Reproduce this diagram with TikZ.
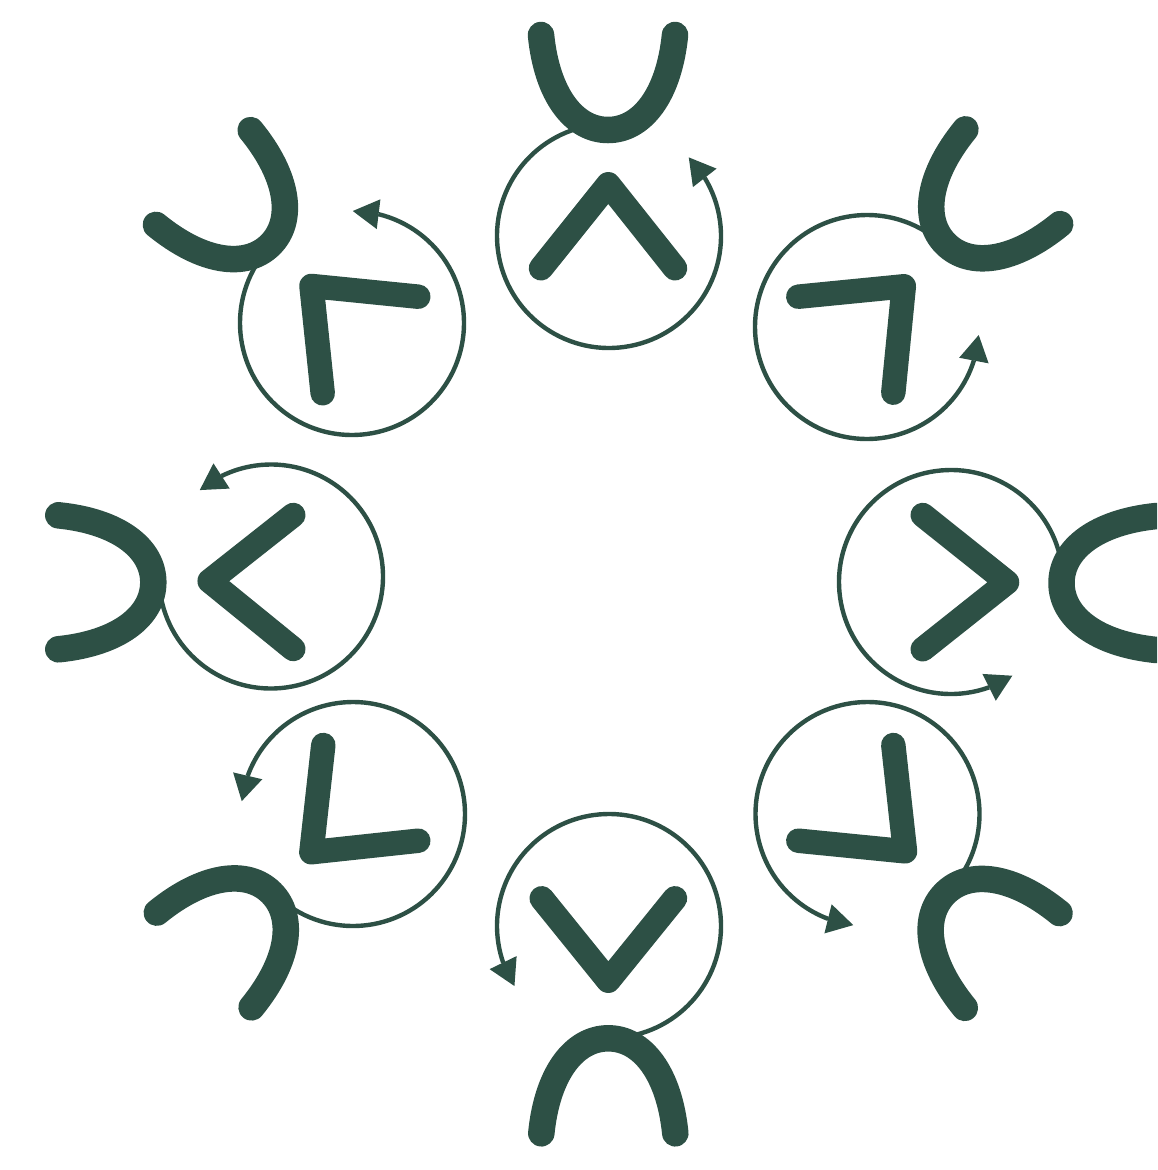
\documentclass[tikz,border=0pt]{standalone}
\usetikzlibrary{arrows.meta,bending,calc}
\definecolor{dg}{RGB}{45,80,69}
\newcommand{\Ucurve}[2]{%
  \draw[ustroke, shift={#1}, rotate=#2-90]
    (-67,0) .. controls (-61,-60) and (-34,-95) .. (0,-95)
            .. controls (34,-95) and (61,-60) .. (67,0);}
\newcommand{\spinarc}[3]{%
  \draw[spin] ($(#1)+(#2:112)$) arc[start angle=#2, end angle=#3, radius=112];}
\begin{document}
\begin{tikzpicture}[x=1pt,y=1pt,
  ustroke/.style={draw=dg, line width=26.5pt, line cap=round},
  chev/.style={draw=dg, line width=24.5pt, line cap=round, line join=round},
  spin/.style={draw=dg, line width=4.4pt,
    -{Triangle[length=26pt,width=30pt,line width=0pt,flex]}}]
\useasboundingbox (0,0) rectangle (1157,-1170);
\clip (0,0) rectangle (1157,-1170);

% circle centres
\coordinate (cT)  at (609,-236);
\coordinate (cUL) at (352,-323);
\coordinate (cL)  at (271,-576.5);
\coordinate (cLL) at (353,-814);
\coordinate (cB)  at (609,-926);
\coordinate (cLR) at (867.5,-814);
\coordinate (cR)  at (951,-582);
\coordinate (cUR) at (867,-327);

% rotating arrows
\spinarc{cT}{98}{404.6}
\spinarc{cUL}{143}{449.6}
\spinarc{cL}{188}{489.5}
\spinarc{cLL}{233}{533.4}
\spinarc{cB}{278}{572.4}
\spinarc{cLR}{323}{622.7}
\spinarc{cR}{8}{303.2}
\spinarc{cUR}{53}{355.9}

% chevrons
\draw[chev] (541,-268.3) -- (608.3,-184.3) -- (675,-268.3);
\draw[chev] (418.3,-296.7) -- (311.5,-286) -- (322.7,-393.3);
\draw[chev] (293.3,-515) -- (209.7,-581) -- (293.3,-649);
\draw[chev] (323.3,-745) -- (311.4,-852.2) -- (418.3,-840.7);
\draw[chev] (541.7,-898.3) -- (608.3,-980.7) -- (675,-898.3);
\draw[chev] (893.3,-745) -- (905,-851.3) -- (798.3,-840.7);
\draw[chev] (922.7,-515) -- (1007,-582.3) -- (922.7,-649.3);
\draw[chev] (798.3,-296.7) -- (903.8,-286.3) -- (893.3,-392.7);

% U-shaped curves
\Ucurve{(608,-35)}{90}
\Ucurve{(203.3,-177.5)}{135}
\Ucurve{(58.3,-582.3)}{180}
\Ucurve{(204.2,-960)}{225}
\Ucurve{(608.3,-1133.3)}{270}
\Ucurve{(1012.2,-960.5)}{315}
\Ucurve{(1156.5,-583)}{0}
\Ucurve{(1012.8,-176.7)}{45}
\end{tikzpicture}
\end{document}
